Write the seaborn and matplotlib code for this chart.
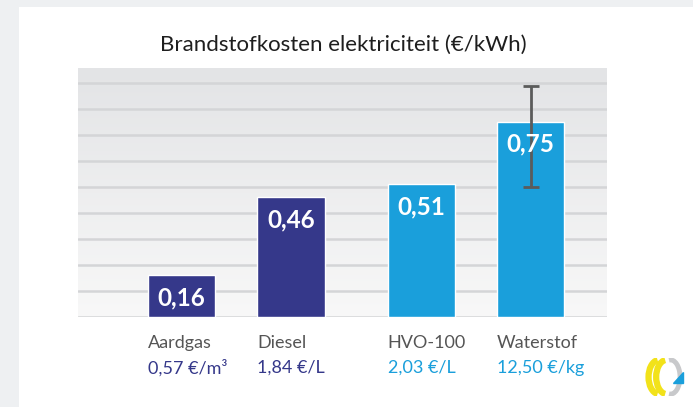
import numpy as np
import matplotlib
matplotlib.use("Agg")
import matplotlib.pyplot as plt
import matplotlib.transforms as mtransforms
from matplotlib.patches import Rectangle, Arc, Polygon
import seaborn as sns

# data
brandstof = ["Aardgas", "Diesel", "HVO-100", "Waterstof"]
kosten_kwh = [0.16, 0.46, 0.51, 0.75]
prijs_label = ["0,57 €/m³", "1,84 €/L", "2,03 €/L", "12,50 €/kg"]
waarde_label = ["0,16", "0,46", "0,51", "0,75"]
groep = ["fossiel", "fossiel", "duurzaam", "duurzaam"]
# spreiding waterstof (alleen laatste balk)
fout_laag = [0.50]
fout_hoog = [0.89]

# layout
xpos = [0, 1, 2.2, 3.2]
kleuren = {"fossiel": "#35388a", "duurzaam": "#1a9fdb"}
breedte = 0.62

sns.set_theme(style="white")
plt.rcParams["font.family"] = ["Lato", "DejaVu Sans"]

fig = plt.figure(figsize=(6.93, 4.07), dpi=100)
fig.set_facecolor("#eef0f2")
fig.patches.append(Rectangle((19 / 693, 0), 1, 1 - 7 / 407, transform=fig.transFigure,
                             facecolor="white", edgecolor="none", zorder=-5))

ax = fig.add_axes([78 / 693, 1 - 317 / 407, 529 / 693, 249 / 407])
ax.set_zorder(2)

# achtergrond verloop
grad = np.linspace(0, 1, 256).reshape(-1, 1)
ax.imshow(grad, cmap=matplotlib.colors.LinearSegmentedColormap.from_list("g", ["#f8f8f8", "#e3e4e6"]),
          extent=[-0.95, 3.9, 0, 0.958], aspect="auto", origin="lower", zorder=0)
for yv in np.arange(0.1, 0.95, 0.1):
    ax.axhline(yv, color="#d4d5d7", lw=1.8, zorder=1)
ax.axhline(0, color="#d4d5d7", lw=1.8, zorder=1)

sns.barplot(x=xpos, y=kosten_kwh, hue=groep, palette=kleuren, native_scale=True,
            width=breedte, dodge=False, legend=False, saturation=1, ax=ax, zorder=2)
ax.set_xlim(-0.95, 3.9)
ax.set_ylim(0, 0.958)

# foutbalk waterstof
ax.errorbar([xpos[3]], [kosten_kwh[3]],
            yerr=[[kosten_kwh[3] - fout_laag[0]], [fout_hoog[0] - kosten_kwh[3]]],
            fmt="none", ecolor="#5b5b5b", elinewidth=2, capsize=6, capthick=2, zorder=4)

for x, v, t in zip(xpos, kosten_kwh, waarde_label):
    ax.annotate(t, (x, v), xytext=(0, -16), textcoords="offset points",
                ha="center", va="center", color="white", fontsize=17.5, fontweight="bold", zorder=5)

trans = mtransforms.blended_transform_factory(ax.transData, ax.transAxes)
for x, naam, prijs, g in zip(xpos, brandstof, prijs_label, groep):
    ax.text(x - breedte / 2, -0.104, naam, transform=trans, ha="left", va="center",
            fontsize=13, color="#555555")
    ax.text(x - breedte / 2, -0.205, prijs, transform=trans, ha="left", va="center",
            fontsize=13, color=kleuren[g])

fig.text(0.495, 1 - 45 / 407, "Brandstofkosten elektriciteit (€/kWh)", ha="center", va="center",
         fontsize=16, color="#1e1e1e")

ax.set_xticks([])
ax.set_yticks([])
ax.set_xlabel("")
ax.set_ylabel("")
for s in ax.spines.values():
    s.set_visible(False)

# logo rechtsonder (benadering)
lax = fig.add_axes([643 / 693, 1 - 396 / 407, 42 / 693, 38 / 407])
lax.set_xlim(0, 1.1)
lax.set_ylim(0, 1)
lax.axis("off")
lax.add_patch(Arc((0.42, 0.5), 0.55, 0.9, theta1=95, theta2=265, lw=4.5, color="#f2e21a"))
lax.add_patch(Arc((0.62, 0.5), 0.55, 0.9, theta1=95, theta2=265, lw=4.5, color="#f2e21a"))
lax.add_patch(Arc((0.72, 0.5), 0.5, 0.9, theta1=265, theta2=95, lw=3.5, color="#c8c9cb"))
lax.add_patch(Polygon([[0.78, 0.35], [1.05, 0.35], [1.05, 0.62]], closed=True, color="#1a9fdb"))

fig.savefig("out.png", dpi=100, facecolor=fig.get_facecolor())
